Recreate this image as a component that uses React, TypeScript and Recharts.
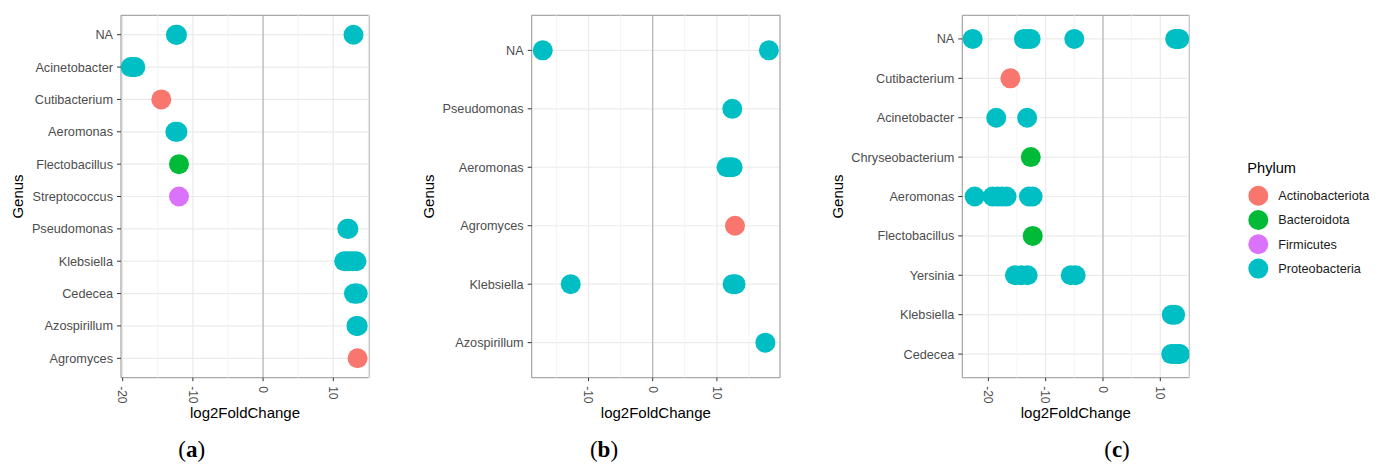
import React from "react"
import {
  ScatterChart,
  Scatter,
  XAxis,
  YAxis,
  CartesianGrid,
  ReferenceLine,
  ReferenceArea,
} from "recharts"

type Pt = { genus: string; phylum: string; lfc: number }

const PHYLA = ["Actinobacteriota", "Bacteroidota", "Firmicutes", "Proteobacteria"]
const PHYLUM_COLORS = ["#F8766D", "#00BA38", "#DB72FB", "#00BFC4"]

const GENERA_A = [
  "NA",
  "Acinetobacter",
  "Cutibacterium",
  "Aeromonas",
  "Flectobacillus",
  "Streptococcus",
  "Pseudomonas",
  "Klebsiella",
  "Cedecea",
  "Azospirillum",
  "Agromyces",
]
const POINTS_A: Pt[] = [
  { genus: "NA", phylum: "Proteobacteria", lfc: -12.42 },
  { genus: "NA", phylum: "Proteobacteria", lfc: -12.26 },
  { genus: "NA", phylum: "Proteobacteria", lfc: 12.88 },
  { genus: "Acinetobacter", phylum: "Proteobacteria", lfc: -18.85 },
  { genus: "Acinetobacter", phylum: "Proteobacteria", lfc: -18.5 },
  { genus: "Acinetobacter", phylum: "Proteobacteria", lfc: -18.2 },
  { genus: "Cutibacterium", phylum: "Actinobacteriota", lfc: -14.5 },
  { genus: "Aeromonas", phylum: "Proteobacteria", lfc: -12.5 },
  { genus: "Aeromonas", phylum: "Proteobacteria", lfc: -12.2 },
  { genus: "Flectobacillus", phylum: "Bacteroidota", lfc: -11.98 },
  { genus: "Streptococcus", phylum: "Firmicutes", lfc: -11.98 },
  { genus: "Pseudomonas", phylum: "Proteobacteria", lfc: 12.0 },
  { genus: "Pseudomonas", phylum: "Proteobacteria", lfc: 12.15 },
  { genus: "Klebsiella", phylum: "Proteobacteria", lfc: 11.55 },
  { genus: "Klebsiella", phylum: "Proteobacteria", lfc: 11.9 },
  { genus: "Klebsiella", phylum: "Proteobacteria", lfc: 12.3 },
  { genus: "Klebsiella", phylum: "Proteobacteria", lfc: 12.8 },
  { genus: "Klebsiella", phylum: "Proteobacteria", lfc: 13.3 },
  { genus: "Cedecea", phylum: "Proteobacteria", lfc: 12.95 },
  { genus: "Cedecea", phylum: "Proteobacteria", lfc: 13.2 },
  { genus: "Cedecea", phylum: "Proteobacteria", lfc: 13.48 },
  { genus: "Azospirillum", phylum: "Proteobacteria", lfc: 13.3 },
  { genus: "Azospirillum", phylum: "Proteobacteria", lfc: 13.48 },
  { genus: "Agromyces", phylum: "Actinobacteriota", lfc: 13.46 },
]

const GENERA_B = ["NA", "Pseudomonas", "Aeromonas", "Agromyces", "Klebsiella", "Azospirillum"]
const POINTS_B: Pt[] = [
  { genus: "NA", phylum: "Proteobacteria", lfc: -17.13 },
  { genus: "NA", phylum: "Proteobacteria", lfc: 18.1 },
  { genus: "Pseudomonas", phylum: "Proteobacteria", lfc: 12.4 },
  { genus: "Aeromonas", phylum: "Proteobacteria", lfc: 11.5 },
  { genus: "Aeromonas", phylum: "Proteobacteria", lfc: 12.0 },
  { genus: "Aeromonas", phylum: "Proteobacteria", lfc: 12.45 },
  { genus: "Agromyces", phylum: "Actinobacteriota", lfc: 12.82 },
  { genus: "Klebsiella", phylum: "Proteobacteria", lfc: -12.77 },
  { genus: "Klebsiella", phylum: "Proteobacteria", lfc: 12.45 },
  { genus: "Klebsiella", phylum: "Proteobacteria", lfc: 12.9 },
  { genus: "Azospirillum", phylum: "Proteobacteria", lfc: 17.55 },
]

const GENERA_C = [
  "NA",
  "Cutibacterium",
  "Acinetobacter",
  "Chryseobacterium",
  "Aeromonas",
  "Flectobacillus",
  "Yersinia",
  "Klebsiella",
  "Cedecea",
]
const POINTS_C: Pt[] = [
  { genus: "NA", phylum: "Proteobacteria", lfc: -22.74 },
  { genus: "NA", phylum: "Proteobacteria", lfc: -13.8 },
  { genus: "NA", phylum: "Proteobacteria", lfc: -13.2 },
  { genus: "NA", phylum: "Proteobacteria", lfc: -12.63 },
  { genus: "NA", phylum: "Proteobacteria", lfc: -5.01 },
  { genus: "NA", phylum: "Proteobacteria", lfc: 12.6 },
  { genus: "NA", phylum: "Proteobacteria", lfc: 13.0 },
  { genus: "NA", phylum: "Proteobacteria", lfc: 13.3 },
  { genus: "Cutibacterium", phylum: "Actinobacteriota", lfc: -16.16 },
  { genus: "Acinetobacter", phylum: "Proteobacteria", lfc: -18.63 },
  { genus: "Acinetobacter", phylum: "Proteobacteria", lfc: -13.24 },
  { genus: "Chryseobacterium", phylum: "Bacteroidota", lfc: -12.6 },
  { genus: "Aeromonas", phylum: "Proteobacteria", lfc: -22.39 },
  { genus: "Aeromonas", phylum: "Proteobacteria", lfc: -19.27 },
  { genus: "Aeromonas", phylum: "Proteobacteria", lfc: -18.4 },
  { genus: "Aeromonas", phylum: "Proteobacteria", lfc: -17.6 },
  { genus: "Aeromonas", phylum: "Proteobacteria", lfc: -16.82 },
  { genus: "Aeromonas", phylum: "Proteobacteria", lfc: -12.93 },
  { genus: "Aeromonas", phylum: "Proteobacteria", lfc: -12.28 },
  { genus: "Flectobacillus", phylum: "Bacteroidota", lfc: -12.26 },
  { genus: "Yersinia", phylum: "Proteobacteria", lfc: -15.37 },
  { genus: "Yersinia", phylum: "Proteobacteria", lfc: -14.2 },
  { genus: "Yersinia", phylum: "Proteobacteria", lfc: -13.15 },
  { genus: "Yersinia", phylum: "Proteobacteria", lfc: -5.64 },
  { genus: "Yersinia", phylum: "Proteobacteria", lfc: -4.77 },
  { genus: "Klebsiella", phylum: "Proteobacteria", lfc: 12.0 },
  { genus: "Klebsiella", phylum: "Proteobacteria", lfc: 12.58 },
  { genus: "Cedecea", phylum: "Proteobacteria", lfc: 11.9 },
  { genus: "Cedecea", phylum: "Proteobacteria", lfc: 12.5 },
  { genus: "Cedecea", phylum: "Proteobacteria", lfc: 13.0 },
  { genus: "Cedecea", phylum: "Proteobacteria", lfc: 13.4 },
]

const TICKS_A = [-20, -10, 0, 10]
const TICKS_B = [-10, 0, 10]
const TICKS_C = [-20, -10, 0, 10]
const MINOR_TICKS = [-25, -15, -5, 5, 15]

const CHART_H = 466
const PLOT_TOP = 15.3
const PLOT_BOTTOM = 377.7
const X_AXIS_H = 50

const PANELS = [
  { caption: "a", genera: GENERA_A, points: POINTS_A, ticks: TICKS_A, domain: [-20.24, 15.09], left: 0, width: 380, yAxisW: 121, rightM: 11, titleX: 23, captionX: 191.7 },
  { caption: "b", genera: GENERA_B, points: POINTS_B, ticks: TICKS_B, domain: [-18.85, 19.83], left: 390, width: 400, yAxisW: 141.7, rightM: 10, titleX: 44, captionX: 604 },
  { caption: "c", genera: GENERA_C, points: POINTS_C, ticks: TICKS_C, domain: [-24.55, 15.06], left: 800, width: 400, yAxisW: 162.3, rightM: 10.7, titleX: 42.5, captionX: 1117 },
]

const dotShapes = PHYLUM_COLORS.map((color) => (props: any) => (
  <circle cx={props.cx} cy={props.cy} r={10} fill={color} />
))

const XTick = (props: any) => {
  const { x, y, payload } = props
  return (
    <text
      x={x}
      y={y}
      dy="0.35em"
      transform={`rotate(90 ${x} ${y})`}
      textAnchor="start"
      fontSize={12}
      fill="#4D4D4D"
    >
      {payload.value}
    </text>
  )
}

const xTitle = (props: any) => {
  const vb = props.viewBox || {}
  return (
    <text x={vb.x + vb.width / 2} y={vb.y + 40.5} textAnchor="middle" fontSize={15} fill="#000">
      log2FoldChange
    </text>
  )
}

const makeYTitle = (titleX: number) => (props: any) => {
  const vb = props.viewBox || {}
  const cy = vb.y + vb.height / 2
  return (
    <text x={titleX} y={cy} transform={`rotate(-90 ${titleX} ${cy})`} textAnchor="middle" fontSize={15} fill="#000">
      Genus
    </text>
  )
}

function Panel({ cfg }: { cfg: (typeof PANELS)[number] }) {
  const n = cfg.genera.length
  const yDomain = [-0.6, n - 0.4]
  const yTicks = cfg.genera.map((_, i) => i)
  return (
    <div style={{ position: "absolute", left: cfg.left, top: 0 }}>
      <ScatterChart
        width={cfg.width}
        height={CHART_H}
        margin={{ top: PLOT_TOP, right: cfg.rightM, bottom: CHART_H - PLOT_BOTTOM - X_AXIS_H, left: 0 }}
      >
        <CartesianGrid stroke="#EBEBEB" strokeWidth={1.2} />
        {MINOR_TICKS.map((v) => (
          <ReferenceLine key={v} x={v} stroke="#F2F2F2" strokeWidth={0.9} />
        ))}
        <ReferenceLine x={0} stroke="#ABABAB" strokeWidth={1} />
        <XAxis
          type="number"
          dataKey="x"
          domain={cfg.domain}
          ticks={cfg.ticks}
          interval={0}
          allowDataOverflow
          height={X_AXIS_H}
          axisLine={false}
          tickLine={{ stroke: "#333" }}
          tickSize={3.5}
          tickMargin={5}
          tick={<XTick />}
          label={xTitle}
        />
        <YAxis
          type="number"
          dataKey="y"
          domain={yDomain}
          ticks={yTicks}
          interval={0}
          reversed
          allowDataOverflow
          width={cfg.yAxisW}
          axisLine={false}
          tickLine={{ stroke: "#333" }}
          tickSize={4}
          tickMargin={4}
          tick={{ fill: "#4D4D4D", fontSize: 12.7 }}
          tickFormatter={(i: number) => cfg.genera[i]}
          label={makeYTitle(cfg.titleX)}
        />
        {PHYLA.map((ph, k) => (
          <Scatter
            key={ph}
            name={ph}
            data={cfg.points
              .filter((p) => p.phylum === ph)
              .map((p) => ({ x: p.lfc, y: cfg.genera.indexOf(p.genus) }))}
            fill={PHYLUM_COLORS[k]}
            shape={dotShapes[k]}
            isAnimationActive={false}
          />
        ))}
        <ReferenceArea
          x1={cfg.domain[0]}
          x2={cfg.domain[1]}
          y1={yDomain[0]}
          y2={yDomain[1]}
          fill="none"
          stroke="#9A9A9A"
          strokeWidth={1}
        />
      </ScatterChart>
    </div>
  )
}

export default function App() {
  return (
    <div
      style={{
        position: "absolute",
        left: 0,
        top: 0,
        width: 1383,
        height: 466,
        background: "#fff",
        fontFamily: "'Liberation Sans', Arial, sans-serif",
      }}
    >
      {PANELS.map((cfg) => (
        <Panel key={cfg.caption} cfg={cfg} />
      ))}
      <svg width={1383} height={466} style={{ position: "absolute", left: 0, top: 0, pointerEvents: "none" }}>
        {PANELS.map((cfg) => (
          <text
            key={cfg.caption}
            x={cfg.captionX}
            y={457}
            textAnchor="middle"
            fontSize={23}
            fontFamily="'Liberation Serif', 'Times New Roman', serif"
            fill="#000"
          >
            (<tspan fontWeight="bold">{cfg.caption}</tspan>)
          </text>
        ))}
        <text x={1247.3} y={173.3} fontSize={14.6} fill="#000">
          Phylum
        </text>
        {PHYLA.map((ph, k) => (
          <g key={ph}>
            <circle cx={1258.3} cy={195.7 + k * 24.3} r={10} fill={PHYLUM_COLORS[k]} />
            <text x={1278.3} y={195.7 + k * 24.3} dy="0.35em" fontSize={12.7} fill="#1A1A1A">
              {ph}
            </text>
          </g>
        ))}
      </svg>
    </div>
  )
}
